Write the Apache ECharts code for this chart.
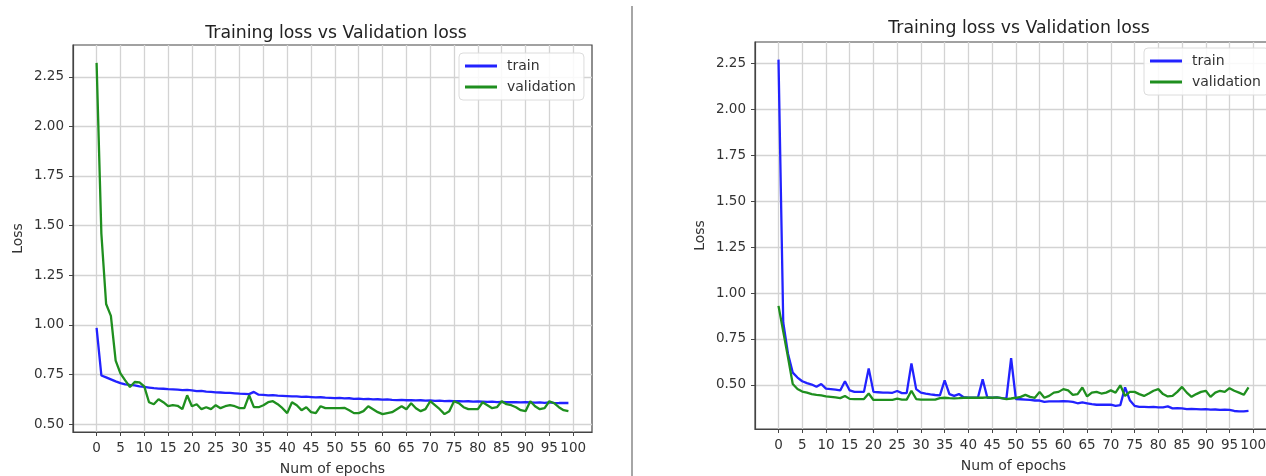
<!DOCTYPE html>
<html>
<head>
    <meta charset="utf-8" />
    <title>Training loss vs Validation loss</title>
    <script src="https://cdn.jsdelivr.net/npm/echarts@6/dist/echarts.min.js"></script>
    <style>
        html, body { margin: 0; padding: 0; background: #fff; }
        #chart { width: 1266px; height: 476px; }
    </style>
</head>
<body>
    <div id="chart"></div>
    <script>
        // 轴刻度
        var xTicks = [0, 5, 10, 15, 20, 25, 30, 35, 40, 45, 50, 55, 60, 65, 70, 75, 80, 85, 90, 95, 100];
        var yTicks = [0.50, 0.75, 1.00, 1.25, 1.50, 1.75, 2.00, 2.25];

        // 左图：训练 / 验证损失
        var leftTrain = [0.985, 0.745, 0.735, 0.725, 0.715, 0.706, 0.700, 0.697, 0.695, 0.690,
            0.687, 0.684, 0.681, 0.679, 0.678, 0.676, 0.675, 0.673, 0.671, 0.672,
            0.670, 0.666, 0.667, 0.663, 0.662, 0.660, 0.659, 0.657, 0.657, 0.655,
            0.653, 0.652, 0.651, 0.662, 0.648, 0.647, 0.645, 0.646, 0.643, 0.642,
            0.641, 0.640, 0.640, 0.637, 0.638, 0.636, 0.634, 0.635, 0.633, 0.632,
            0.631, 0.632, 0.629, 0.630, 0.627, 0.628, 0.626, 0.627, 0.624, 0.625,
            0.623, 0.624, 0.622, 0.621, 0.622, 0.620, 0.621, 0.619, 0.620, 0.618,
            0.619, 0.617, 0.618, 0.616, 0.617, 0.616, 0.615, 0.614, 0.615, 0.613,
            0.614, 0.613, 0.612, 0.613, 0.611, 0.612, 0.611, 0.610, 0.611, 0.609,
            0.610, 0.609, 0.608, 0.609, 0.607, 0.609, 0.607, 0.606, 0.606, 0.606];
        var leftVal = [2.32, 1.46, 1.105, 1.045, 0.82, 0.755, 0.72, 0.687, 0.712, 0.71,
            0.69, 0.61, 0.60, 0.625, 0.61, 0.59, 0.595, 0.592, 0.575, 0.645,
            0.59, 0.60, 0.575, 0.585, 0.575, 0.595, 0.58, 0.59, 0.595, 0.59,
            0.58, 0.58, 0.645, 0.585, 0.585, 0.595, 0.61, 0.615, 0.60, 0.58,
            0.555, 0.61, 0.595, 0.57, 0.585, 0.56, 0.555, 0.59, 0.58, 0.58,
            0.58, 0.58, 0.582, 0.57, 0.555, 0.555, 0.565, 0.59, 0.575, 0.56,
            0.55, 0.555, 0.56, 0.575, 0.59, 0.575, 0.605, 0.58, 0.565, 0.575,
            0.615, 0.595, 0.575, 0.55, 0.565, 0.615, 0.605, 0.585, 0.575, 0.575,
            0.575, 0.61, 0.595, 0.58, 0.585, 0.615, 0.60, 0.595, 0.585, 0.57,
            0.565, 0.615, 0.59, 0.575, 0.58, 0.615, 0.605, 0.585, 0.57, 0.565];

        // 右图：训练 / 验证损失
        var rightTrain = [2.27, 0.84, 0.67, 0.567, 0.54, 0.52, 0.51, 0.502, 0.49, 0.505,
            0.48, 0.477, 0.474, 0.47, 0.52, 0.47, 0.462, 0.462, 0.462, 0.59,
            0.462, 0.46, 0.458, 0.458, 0.457, 0.467, 0.455, 0.455, 0.617, 0.477,
            0.458, 0.452, 0.448, 0.445, 0.443, 0.525, 0.45, 0.44, 0.45, 0.433,
            0.43, 0.43, 0.43, 0.53, 0.43, 0.43, 0.432, 0.428, 0.425, 0.645,
            0.423, 0.422, 0.42, 0.418, 0.415, 0.415, 0.408, 0.41, 0.41, 0.41,
            0.412, 0.41, 0.408, 0.40, 0.405, 0.40, 0.395, 0.392, 0.392, 0.392,
            0.393, 0.386, 0.39, 0.487, 0.417, 0.386, 0.38, 0.38, 0.379, 0.38,
            0.378, 0.378, 0.383, 0.372, 0.373, 0.372, 0.368, 0.369, 0.368, 0.367,
            0.368, 0.365, 0.366, 0.364, 0.365, 0.364, 0.358, 0.356, 0.356, 0.359];
        var rightVal = [0.93, 0.79, 0.65, 0.505, 0.478, 0.464, 0.458, 0.45, 0.446, 0.443,
            0.438, 0.435, 0.432, 0.428, 0.44, 0.424, 0.423, 0.423, 0.423, 0.453,
            0.418, 0.418, 0.418, 0.418, 0.419, 0.425, 0.42, 0.42, 0.468, 0.423,
            0.42, 0.42, 0.42, 0.42, 0.428, 0.43, 0.428, 0.427, 0.428, 0.43,
            0.43, 0.43, 0.43, 0.43, 0.432, 0.43, 0.432, 0.428, 0.423, 0.426,
            0.43, 0.435, 0.446, 0.435, 0.43, 0.462, 0.43, 0.44, 0.458, 0.462,
            0.477, 0.47, 0.446, 0.45, 0.486, 0.437, 0.458, 0.462, 0.453, 0.458,
            0.47, 0.458, 0.498, 0.44, 0.462, 0.462, 0.45, 0.44, 0.453, 0.468,
            0.477, 0.45, 0.437, 0.44, 0.462, 0.489, 0.458, 0.435, 0.45, 0.462,
            0.468, 0.435, 0.458, 0.468, 0.462, 0.482, 0.468, 0.458, 0.446, 0.486];

        var FONT = 'DejaVu Sans';
        var TXT = '#333';
        var AXIS = '#444';
        var GRIDLINE = '#d3d3d3';

        function pairs(arr) {
            var out = [];
            for (var i = 0; i < arr.length; i++) out.push([i, arr[i]]);
            return out;
        }

        function xAxisFor(idx) {
            return {
                type: 'value', gridIndex: idx, min: -4.95, max: 103.95,
                name: 'Num of epochs', nameLocation: 'middle', nameGap: 30,
                nameTextStyle: { fontFamily: FONT, fontSize: 14, color: TXT },
                axisLine: { show: true, onZero: false, lineStyle: { color: AXIS, width: 1.2 } },
                axisTick: { show: true, length: 4, customValues: xTicks, lineStyle: { color: AXIS } },
                axisLabel: { customValues: xTicks, fontFamily: FONT, fontSize: 13.5, color: TXT, margin: 9 },
                splitLine: { show: true, lineStyle: { color: GRIDLINE, width: 1.3 } }
            };
        }

        function yAxisFor(idx, lo, hi) {
            return {
                type: 'value', gridIndex: idx, min: lo, max: hi,
                name: 'Loss', nameLocation: 'middle', nameGap: 48, nameRotate: 90,
                nameTextStyle: { fontFamily: FONT, fontSize: 14, color: TXT },
                axisLine: { show: true, onZero: false, lineStyle: { color: AXIS, width: 1.2 } },
                axisTick: { show: true, length: 4, customValues: yTicks, lineStyle: { color: AXIS } },
                axisLabel: {
                    customValues: yTicks, fontFamily: FONT, fontSize: 13.5, color: TXT, margin: 9,
                    formatter: function (v) { return v.toFixed(2); }
                },
                splitLine: { show: true, lineStyle: { color: GRIDLINE, width: 1.3 } }
            };
        }

        function legendFor(left, top) {
            return {
                orient: 'vertical', left: left, top: top,
                padding: [6, 8, 6, 6], itemGap: 7,
                itemWidth: 32, itemHeight: 3,
                backgroundColor: 'rgba(255,255,255,0.85)',
                borderColor: '#dcdcdc', borderWidth: 1, borderRadius: 4,
                textStyle: { fontFamily: FONT, fontSize: 14, color: TXT, padding: [0, 0, 0, 5] },
                data: [{ name: 'train', icon: 'rect' }, { name: 'validation', icon: 'rect' }]
            };
        }

        function lineSeries(name, data, color, idx) {
            return {
                name: name, type: 'line', xAxisIndex: idx, yAxisIndex: idx,
                data: pairs(data), showSymbol: false, symbol: 'none',
                lineStyle: { color: color, width: 2.3 }, itemStyle: { color: color },
                animation: false
            };
        }

        var chart = echarts.init(document.getElementById('chart'));
        chart.setOption({
            backgroundColor: '#fff',
            animation: false,
            title: [
                { text: 'Training loss vs Validation loss', left: 331, top: 20, textAlign: 'center',
                  textStyle: { fontFamily: FONT, fontSize: 17.3, fontWeight: 'normal', color: '#222' } },
                { text: 'Training loss vs Validation loss', left: 1014, top: 15, textAlign: 'center',
                  textStyle: { fontFamily: FONT, fontSize: 17.3, fontWeight: 'normal', color: '#222' } }
            ],
            legend: [legendFor(459, 53), legendFor(1144, 48)],
            grid: [
                { left: 73, top: 45, width: 519, height: 387, outerBoundsMode: 'none', containLabel: false,
                  show: true, borderColor: AXIS, borderWidth: 1.2, backgroundColor: 'transparent' },
                { left: 755, top: 42, width: 517, height: 387, outerBoundsMode: 'none', containLabel: false,
                  show: true, borderColor: AXIS, borderWidth: 1.2, backgroundColor: 'transparent' }
            ],
            xAxis: [xAxisFor(0), xAxisFor(1)],
            yAxis: [yAxisFor(0, 0.46, 2.41), yAxisFor(1, 0.26, 2.366)],
            series: [
                lineSeries('train', leftTrain, '#2222ff', 0),
                lineSeries('validation', leftVal, '#1f8f1f', 0),
                lineSeries('train', rightTrain, '#2222ff', 1),
                lineSeries('validation', rightVal, '#1f8f1f', 1)
            ],
            graphic: [{
                type: 'line', shape: { x1: 632, y1: 6, x2: 632, y2: 476 },
                style: { stroke: '#a6a6a6', lineWidth: 2 }
            }]
        });
    </script>
</body>
</html>
